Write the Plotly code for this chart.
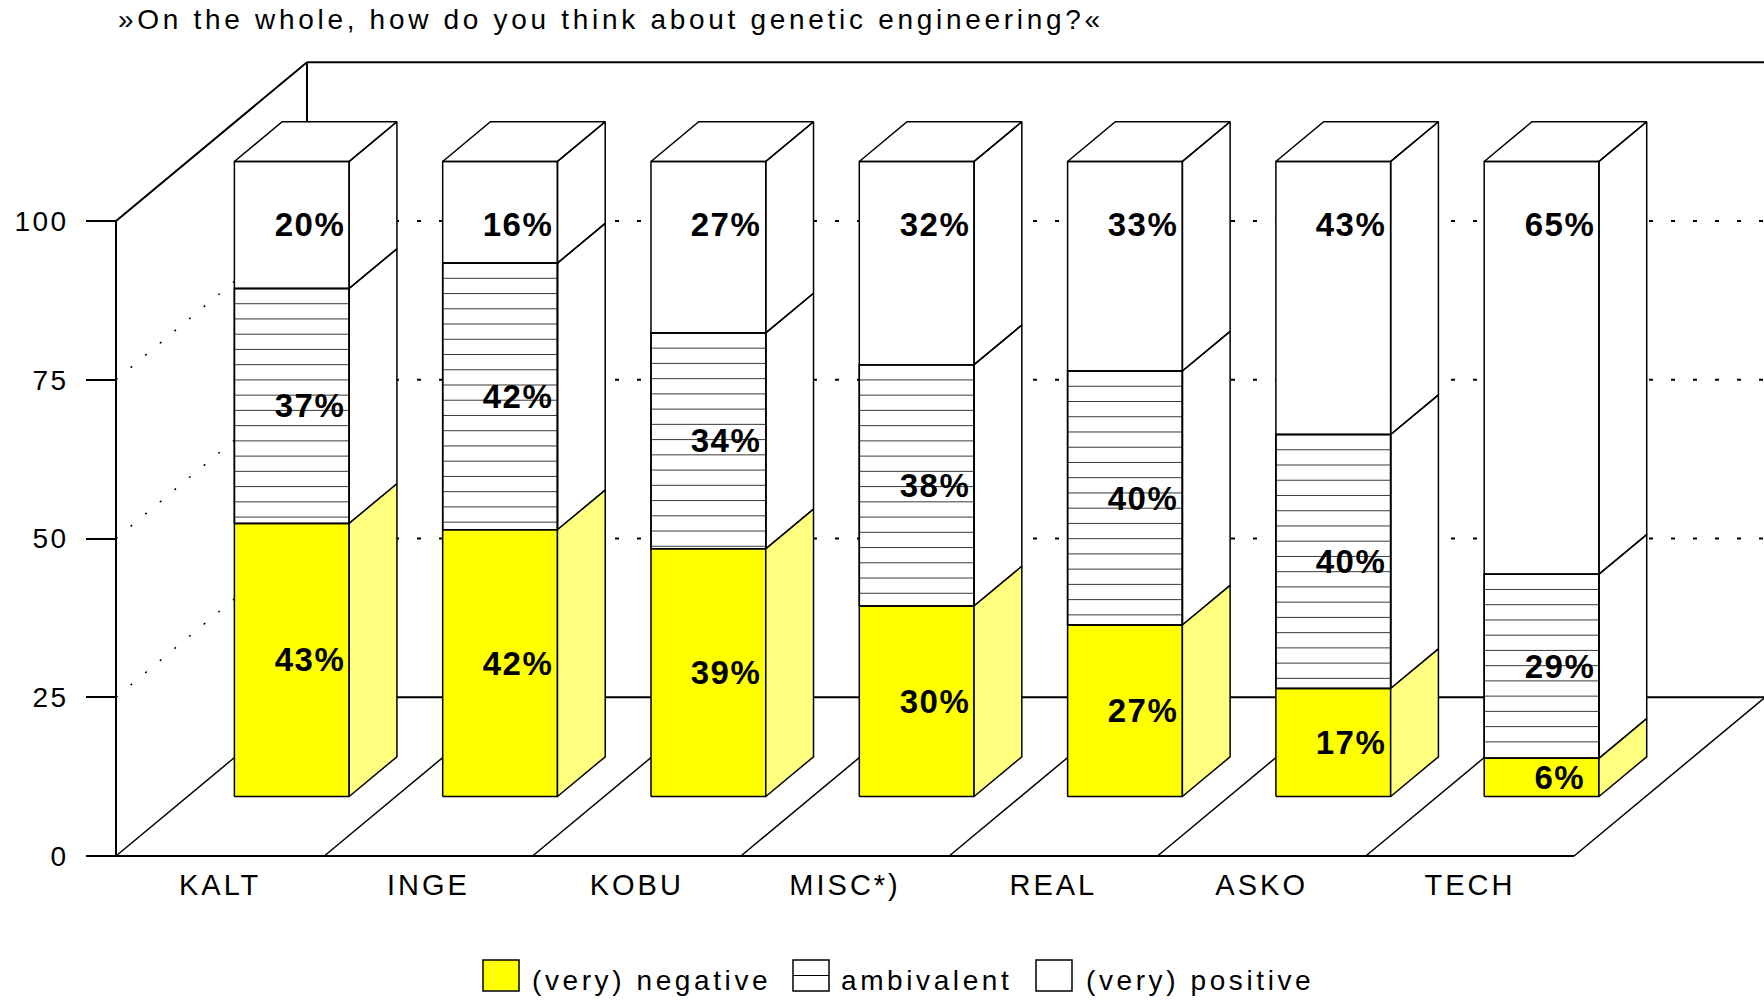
import plotly.graph_objects as go

# ---- data ---------------------------------------------------------------
categories = ["KALT", "INGE", "KOBU", "MISC*)", "REAL", "ASKO", "TECH"]
negative = [43, 42, 39, 30, 27, 17, 6]
ambivalent = [37, 42, 34, 38, 40, 40, 29]
positive = [20, 16, 27, 32, 33, 43, 65]
series_names = ["(very) negative", "ambivalent", "(very) positive"]
y_ticks = [0, 25, 50, 75, 100]
title_text = "»On the whole, how do you think about genetic engineering?«"

# ---- oblique 3-D projection settings -----------------------------------
DEPTH_X = 0.917      # horizontal shift of the full floor depth (category units)
DEPTH_Y = 25.0       # vertical shift of the full floor depth (value units)
BAR_FRONT = 0.375    # depth of the bar front faces (fraction of floor depth)
BAR_DEPTH = 0.25     # bar thickness (fraction of floor depth)
BAR_WIDTH = 0.551    # bar width (category units)
HATCH_STEP = 2.4     # spacing of the hatch lines (value units)
LABEL_SHIFT = 0.43   # value labels: offset right of the category centre
WALL_TOP = 100
N = len(categories)

# pixel geometry of the page -> axis ranges
W, H = 1764, 1000
ORIGIN_PX = (116, 856)
PX_PER_CAT = 208.3
PX_PER_UNIT = 6.35
X0 = -ORIGIN_PX[0] / PX_PER_CAT
X1 = (W - ORIGIN_PX[0]) / PX_PER_CAT
Y0 = -(H - ORIGIN_PX[1]) / PX_PER_UNIT
Y1 = ORIGIN_PX[1] / PX_PER_UNIT

YELLOW = "#ffff00"
YELLOW_SIDE = "#ffff80"
FONT = "Liberation Sans, Arial, Helvetica, sans-serif"


def proj(x, v, d):
    """Project a point (category x, value v, depth d) onto the page."""
    return x + d * DEPTH_X, v + d * DEPTH_Y


def add_poly(xs, ys, pts):
    for (x, v, d) in list(pts) + [pts[0]]:
        px, py = proj(x, v, d)
        xs.append(px)
        ys.append(py)
    xs.append(None)
    ys.append(None)


def add_seg(xs, ys, a, b):
    for (x, v, d) in (a, b):
        px, py = proj(x, v, d)
        xs.append(px)
        ys.append(py)
    xs.append(None)
    ys.append(None)


fig = go.Figure()

# ---- walls and floor ----------------------------------------------------
thick_x, thick_y = [], []
add_seg(thick_x, thick_y, (0, 0, 0), (0, WALL_TOP, 0))            # front axis
add_seg(thick_x, thick_y, (0, WALL_TOP, 0), (0, WALL_TOP, 1))      # side wall top
add_seg(thick_x, thick_y, (0, WALL_TOP, 1), (N, WALL_TOP, 1))      # back wall top
add_seg(thick_x, thick_y, (0, 0, 1), (0, WALL_TOP, 1))            # back wall left
add_seg(thick_x, thick_y, (N, 0, 1), (N, WALL_TOP, 1))            # back wall right
add_seg(thick_x, thick_y, (0, 0, 0), (N, 0, 0))                   # floor front edge
add_seg(thick_x, thick_y, (0, 0, 1), (N, 0, 1))                   # floor back edge
fig.add_trace(go.Scatter(x=thick_x, y=thick_y, mode="lines",
                         line=dict(color="black", width=2),
                         hoverinfo="skip", showlegend=False))

thin_x, thin_y = [], []
for i in range(N + 1):
    add_seg(thin_x, thin_y, (i, 0, 0), (i, 0, 1))                 # floor divisions
fig.add_trace(go.Scatter(x=thin_x, y=thin_y, mode="lines",
                         line=dict(color="black", width=1.5),
                         hoverinfo="skip", showlegend=False))

grid_back_x, grid_back_y, grid_side_x, grid_side_y = [], [], [], []
for t in y_ticks[1:-1]:
    add_seg(grid_back_x, grid_back_y, (0, t, 1), (N, t, 1))
    add_seg(grid_side_x, grid_side_y, (0, t, 0), (0, t, 1))
fig.add_trace(go.Scatter(x=grid_back_x, y=grid_back_y, mode="lines",
                         line=dict(color="black", width=2, dash="4px,18px"),
                         hoverinfo="skip", showlegend=False))
fig.add_trace(go.Scatter(x=grid_side_x, y=grid_side_y, mode="lines",
                         line=dict(color="black", width=1.5, dash="2px,17px"),
                         hoverinfo="skip", showlegend=False))

# ---- stacked 3-D bars ---------------------------------------------------
white_x, white_y = [], []
yel_x, yel_y = [], []
yel_side_x, yel_side_y = [], []
hatch_x, hatch_y = [], []
amb_x, amb_y = [], []
labels = []

d0, d1 = BAR_FRONT, BAR_FRONT + BAR_DEPTH
for i, cat in enumerate(categories):
    xl = i + 0.5 - BAR_WIDTH / 2
    xr = i + 0.5 + BAR_WIDTH / 2
    segs = [(0, negative[i]),
            (negative[i], negative[i] + ambivalent[i]),
            (negative[i] + ambivalent[i], negative[i] + ambivalent[i] + positive[i])]
    vals = [negative[i], ambivalent[i], positive[i]]
    for k, (lo, hi) in enumerate(segs):
        front = [(xl, lo, d0), (xr, lo, d0), (xr, hi, d0), (xl, hi, d0)]
        side = [(xr, lo, d0), (xr, lo, d1), (xr, hi, d1), (xr, hi, d0)]
        if k == 0:
            add_poly(yel_x, yel_y, front)
            add_poly(yel_side_x, yel_side_y, side)
        else:
            add_poly(white_x, white_y, front)
            add_poly(white_x, white_y, side)
        if k == 1:
            add_poly(amb_x, amb_y, front)
            v = hi - HATCH_STEP
            while v > lo + 0.3:
                add_seg(hatch_x, hatch_y, (xl, v, d0), (xr, v, d0))
                v -= HATCH_STEP
        # value label: top segment near the bar top, others centred
        lv = hi - 10 if k == 2 else (lo + hi) / 2
        lx, ly = proj(i + 0.5 + LABEL_SHIFT - BAR_FRONT * DEPTH_X, lv, d0)
        labels.append((lx, ly, f"{vals[k]}%"))
    top = segs[-1][1]
    add_poly(white_x, white_y, [(xl, top, d0), (xr, top, d0), (xr, top, d1), (xl, top, d1)])

face_line = dict(color="black", width=1.5)
fig.add_trace(go.Scatter(x=white_x, y=white_y, mode="lines", fill="toself",
                         fillcolor="white", line=face_line,
                         hoverinfo="skip", showlegend=False))
fig.add_trace(go.Scatter(x=yel_x, y=yel_y, mode="lines", fill="toself",
                         fillcolor=YELLOW, line=face_line,
                         hoverinfo="skip", showlegend=False))
fig.add_trace(go.Scatter(x=yel_side_x, y=yel_side_y, mode="lines", fill="toself",
                         fillcolor=YELLOW_SIDE, line=face_line,
                         hoverinfo="skip", showlegend=False))
fig.add_trace(go.Scatter(x=hatch_x, y=hatch_y, mode="lines",
                         line=dict(color="#3a3a3a", width=1),
                         hoverinfo="skip", showlegend=False))
fig.add_trace(go.Scatter(x=amb_x, y=amb_y, mode="lines", line=face_line,
                         hoverinfo="skip", showlegend=False))

annotations = []
for lx, ly, txt in labels:
    annotations.append(dict(x=lx, y=ly, xref="x", yref="y", text=txt,
                            showarrow=False, xanchor="center", yanchor="middle",
                            font=dict(family=FONT, size=33, color="black",
                                      weight="bold")))

# ---- legend (drawn as boxes + text in page coordinates) -----------------
def px_x(p):
    return p / W


def px_y(p):
    return 1 - p / H


legend_boxes = [(483, 519), (793, 829), (1036, 1072)]
legend_text_x = [530, 839, 1084]
box_top, box_bottom = 960, 991
shapes = []
fills = [YELLOW, "white", "white"]
for (bx0, bx1), fc, name, tx in zip(legend_boxes, fills, series_names, legend_text_x):
    shapes.append(dict(type="rect", xref="paper", yref="paper",
                       x0=px_x(bx0), x1=px_x(bx1), y0=px_y(box_bottom), y1=px_y(box_top),
                       fillcolor=fc, line=dict(color="black", width=1.5)))
    if name == "ambivalent":
        mid = (box_top + box_bottom) / 2
        shapes.append(dict(type="line", xref="paper", yref="paper",
                           x0=px_x(bx0), x1=px_x(bx1), y0=px_y(mid), y1=px_y(mid),
                           line=dict(color="black", width=1.2)))
    annotations.append(dict(x=px_x(tx), y=px_y(980), xref="paper", yref="paper",
                            text=name, showarrow=False, xanchor="left", align="left",
                            yanchor="middle",
                            font=dict(family=FONT, size=28, color="black")))

axis_x_pos = (0 - X0) / (X1 - X0)
axis_y_pos = (0 - Y0) / (Y1 - Y0)

fig.update_layout(
    width=W, height=H,
    margin=dict(l=0, r=0, t=0, b=0, pad=0),
    paper_bgcolor="white", plot_bgcolor="white",
    title=dict(text=title_text, x=px_x(118), xanchor="left", xref="paper",
               y=px_y(19), yanchor="middle", yref="paper",
               font=dict(family=FONT, size=28, color="black")),
    xaxis=dict(range=[X0, X1], showgrid=False, zeroline=False, showline=False,
               anchor="free", position=axis_y_pos,
               tickmode="array", tickvals=[i + 0.5 for i in range(N)],
               ticktext=categories, ticks="", ticklabelstandoff=9,
               tickfont=dict(family=FONT, size=29, color="black"),
               fixedrange=True),
    yaxis=dict(range=[Y0, Y1], showgrid=False, zeroline=False, showline=False,
               anchor="free", position=axis_x_pos,
               tickmode="array", tickvals=y_ticks, ticks="outside", ticklen=30,
               tickwidth=2, tickcolor="black", ticklabelstandoff=12,
               tickfont=dict(family=FONT, size=28, color="black"),
               fixedrange=True),
    shapes=shapes,
    annotations=annotations,
    showlegend=False,
)

# letter spacing of the typeset texts
spacing_js = """
var gd = document.getElementById('{plot_id}');
function spaceLetters() {
  gd.querySelectorAll('.gtitle').forEach(function (t) { t.style.letterSpacing = '3.7px'; });
  gd.querySelectorAll('.xtick text').forEach(function (t) { t.style.letterSpacing = '3px'; });
  gd.querySelectorAll('.ytick text').forEach(function (t) { t.style.letterSpacing = '2.4px'; });
  gd.querySelectorAll('.annotation-text').forEach(function (t) {
    var w = parseInt(window.getComputedStyle(t).fontWeight) || 400;
    t.style.letterSpacing = (w >= 600) ? '1.5px' : '3.6px';
  });
}
spaceLetters();
gd.on('plotly_afterplot', spaceLetters);
"""

fig.write_html("out.html", post_script=spacing_js, config={"displayModeBar": False})
